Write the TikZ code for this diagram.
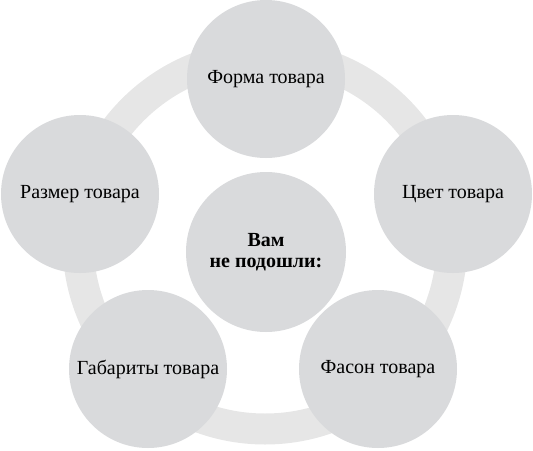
\documentclass[tikz,border=0pt]{standalone}
\usepackage{fontspec}
\setmainfont{Liberation Serif}
\usepackage{tikz}
\definecolor{petalgray}{RGB}{217,218,220}
\definecolor{ringgray}{RGB}{230,230,230}
\tikzset{
x=1pt, y=-1pt,
petal/.style={circle,fill=petalgray,minimum size=158pt,inner sep=0pt,
  font=\fontsize{20}{22}\selectfont,text=black},
hub/.style={petal,minimum size=160pt,font=\fontsize{20}{21}\selectfont\bfseries,align=center},
ringline/.style={line width=31pt,draw=ringgray},
}

\begin{document}
\begin{tikzpicture}
\useasboundingbox (0,0) rectangle (533,450);
\coordinate (ringc) at (265,242);
\draw[ringline] (ringc) circle[radius=187pt];
\node[petal] (forma) at (266,79) {Форма товара};
\node[petal] (cvet) at (453,194) {Цвет товара};
\node[petal] (fason) at (378,369) {Фасон товара};
\node[petal] (gabarit) at (148,369) {Габариты товара};
\node[petal] (razmer) at (80,194) {Размер товара};
\node[hub] (vam) at (266,252) {Вам\\не подошли:};
\end{tikzpicture}
\end{document}
